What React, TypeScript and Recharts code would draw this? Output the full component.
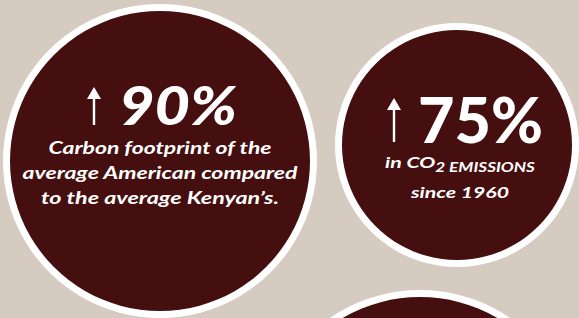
import { PieChart, Pie, Cell } from 'recharts';

// three bubbles of the infographic, each one a single full slice
const bubbleNames = ['footprint', 'emissions', 'next'];
const bubbleShare = [1, 1, 1];

const headlineValues = [90, 75];
const footprintLines = ['Carbon footprint of the', 'average American compared', 'to the average Kenyan\u2019s.'];
const emissionsPrefix = 'in CO';
const emissionsSub = '2 EMISSIONS';
const emissionsSince = 'since 1960';

const W = 579;
const H = 318;
const BG = '#d6cbc0';
const DARK = '#440f0e';
const RING = 7;

const bubbles = [
    { cx: 160, cy: 161, r: 157 },
    { cx: 457, cy: 145, r: 122 },
    { cx: 420, cy: 449, r: 159 },
];

// measured widths of the caption lines in the original artwork
const footprintWidths = [223, 275, 238];

const font = 'Lato, "Open Sans", sans-serif';

function Arrow({ x, top, bottom }: { x: number; top: number; bottom: number }) {
    const head = 12;
    return (
        <g fill="#fff">
            <rect x={x - 1.2} y={top + head - 2} width={2.4} height={bottom - top - head + 2} />
            <polygon points={`${x},${top} ${x + 7},${top + head} ${x - 7},${top + head}`} />
        </g>
    );
}

function FootprintLabel() {
    const cx = 160;
    return (
        <g fill="#fff" fontFamily={font} fontWeight={700}>
            <Arrow x={94} top={87} bottom={125} />
            <text x={119} y={125} fontSize={53} fontWeight={900} fontStyle="italic" textLength={118} lengthAdjust="spacingAndGlyphs">
                {headlineValues[0]}%
            </text>
            {footprintLines.map((line, i) => (
                <text
                    key={line}
                    x={cx}
                    y={154 + i * 25}
                    fontSize={16.5}
                    fontStyle="italic"
                    textAnchor="middle"
                    textLength={footprintWidths[i]}
                    lengthAdjust="spacingAndGlyphs"
                >
                    {line}
                </text>
            ))}
        </g>
    );
}

function EmissionsLabel() {
    const cx = 460;
    return (
        <g fill="#fff" fontFamily={font} fontWeight={700}>
            <Arrow x={394} top={98} bottom={142} />
            <text x={418} y={143} fontSize={62} fontWeight={900} textLength={125} lengthAdjust="spacingAndGlyphs">
                {headlineValues[1]}%
            </text>
            <text
                x={cx}
                y={168}
                fontSize={15.5}
                fontStyle="italic"
                textAnchor="middle"
                textLength={150}
                lengthAdjust="spacingAndGlyphs"
            >
                <tspan>{emissionsPrefix}</tspan>
                <tspan fontSize={12.5} dy={4}>{emissionsSub}</tspan>
            </text>
            <text
                x={cx}
                y={198}
                fontSize={15.5}
                fontStyle="italic"
                textAnchor="middle"
                textLength={98}
                lengthAdjust="spacingAndGlyphs"
            >
                {emissionsSince}
            </text>
        </g>
    );
}

const labels = [FootprintLabel, EmissionsLabel, null];

export default function App() {
    return (
        <div style={{ position: 'absolute', left: 0, top: 0, width: W, height: H, background: BG }}>
            <PieChart width={W} height={H} margin={{ top: 0, right: 0, bottom: 0, left: 0 }}>
                {bubbleNames.map((name, i) => {
                    const b = bubbles[i];
                    const data = [{ name, value: bubbleShare[i] }];
                    const Label = labels[i];
                    return [
                        <Pie
                            key={`${name}-ring`}
                            data={data}
                            dataKey="value"
                            cx={b.cx}
                            cy={b.cy}
                            outerRadius={b.r}
                            stroke="none"
                            fill="#ffffff"
                            isAnimationActive={false}
                        />,
                        <Pie
                            key={`${name}-fill`}
                            data={data}
                            dataKey="value"
                            cx={b.cx}
                            cy={b.cy}
                            outerRadius={b.r - RING}
                            stroke="none"
                            fill={DARK}
                            labelLine={false}
                            label={Label ? () => <Label /> : false}
                            isAnimationActive={false}
                        >
                            <Cell fill={DARK} />
                        </Pie>,
                    ];
                })}
            </PieChart>
        </div>
    );
}
